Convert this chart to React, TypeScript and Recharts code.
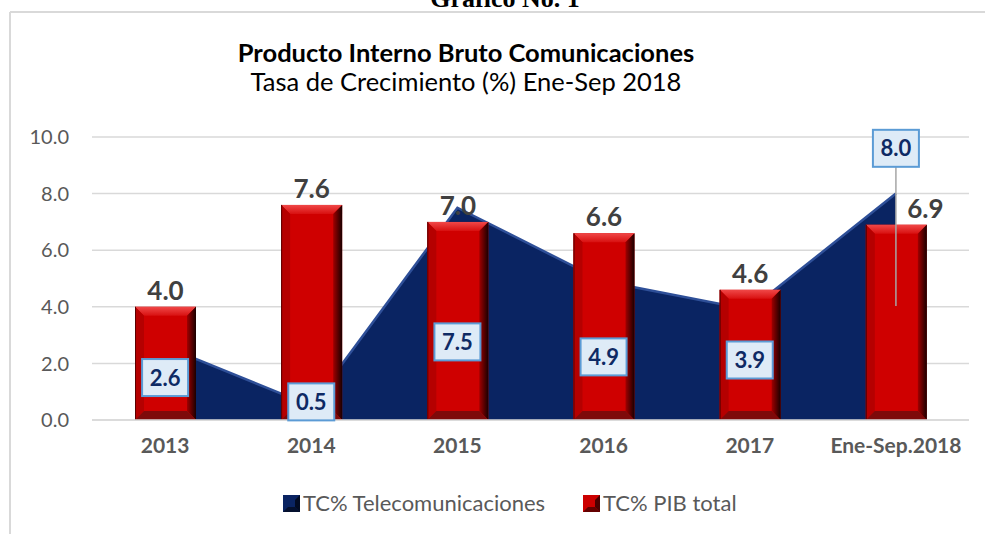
import { ComposedChart, Area, Bar, XAxis, YAxis, CartesianGrid, LabelList } from 'recharts'

// Data
const years = ['2013', '2014', '2015', '2016', '2017', 'Ene-Sep.2018']
const pibTotal = [4.0, 7.6, 7.0, 6.6, 4.6, 6.9]
const telecom = [2.6, 0.5, 7.5, 4.9, 3.9, 8.0]
const yTicks = [0, 2, 4, 6, 8, 10]

const data = years.map((year, i) => ({ year, pib: pibTotal[i], tel: telecom[i] }))

// layout
const W = 985
const H = 534
const MARGIN = { top: 137, right: 16, bottom: 74, left: 12 }
const X_AXIS_H = 40
const PLOT_BOTTOM = H - MARGIN.bottom - X_AXIS_H
const PPU = (PLOT_BOTTOM - MARGIN.top) / 10

const FONT = 'Lato, "Open Sans", sans-serif'
const GRAY = '#595959'

// where the boxed telecom labels sit (in axis units), as placed in the original
const telecomLabelLevel = [1.5, 0.64, 2.76, 2.23, 2.12, 9.6]

const BevelBar = (props: any) => {
  const { x, y, width: w, height: h } = props
  if (!h || h <= 0) return null
  const b = Math.min(9, h / 2)
  return (
    <g>
      <rect x={x} y={y} width={w} height={h} fill="#CF0000" />
      <polygon points={`${x},${y} ${x + w},${y} ${x + w - b},${y + b} ${x + b},${y + b}`} fill="url(#barTop)" />
      <polygon points={`${x},${y} ${x + b},${y + b} ${x + b},${y + h - b} ${x},${y + h}`} fill="#B50000" />
      <polygon points={`${x + w},${y} ${x + w},${y + h} ${x + w - b},${y + h - b} ${x + w - b},${y + b}`} fill="url(#barRight)" />
      <polygon points={`${x},${y + h} ${x + b},${y + h - b} ${x + w - b},${y + h - b} ${x + w},${y + h}`} fill="#7E0A0A" />
      <line x1={x + 0.5} y1={y} x2={x + 0.5} y2={y + h} stroke="#5a0000" strokeWidth={1} />
    </g>
  )
}

const BarValueLabel = (props: any) => {
  const { x, y, width, value, index } = props
  const last = index === years.length - 1
  return (
    <text
      x={x + width / 2 + (last ? 29 : 0)}
      y={y - 7}
      textAnchor="middle"
      fontFamily={FONT}
      fontWeight="bold"
      fontSize={26}
      fill="#404040"
    >
      {Number(value).toFixed(1)}
    </text>
  )
}

const TelecomLabel = (props: any) => {
  const { x, value, index } = props
  const cy = PLOT_BOTTOM - telecomLabelLevel[index] * PPU
  const bw = 46
  const bh = 37
  const last = index === years.length - 1
  return (
    <g>
      {last && (
        <line x1={x} y1={cy + bh / 2} x2={x} y2={PLOT_BOTTOM - 4.03 * PPU} stroke="#a6a6a6" strokeWidth={1.5} />
      )}
      <rect x={x - bw / 2} y={cy - bh / 2} width={bw} height={bh} fill="#DEEBF7" stroke="#5B9BD5" strokeWidth={2} />
      <text
        x={x}
        y={cy + 8}
        textAnchor="middle"
        fontFamily={FONT}
        fontWeight="bold"
        fontSize={22}
        fill="#0E2A64"
      >
        {Number(value).toFixed(1)}
      </text>
    </g>
  )
}

const LegendSwatch = ({ x, y, color, dark }: { x: number; y: number; color: string; dark: string }) => {
  const s = 17
  const b = 5
  return (
    <g>
      <rect x={x} y={y} width={s} height={s} fill={color} />
      <polygon points={`${x},${y} ${x + s},${y} ${x + s - b},${y + b} ${x + b},${y + b}`} fill={color} opacity={0.7} />
      <polygon points={`${x + s},${y} ${x + s},${y + s} ${x + s - b},${y + s - b} ${x + s - b},${y + b}`} fill={dark} />
      <polygon points={`${x},${y + s} ${x + b},${y + s - b} ${x + s - b},${y + s - b} ${x + s},${y + s}`} fill={dark} opacity={0.8} />
    </g>
  )
}

export default function App() {
  return (
    <div style={{ position: 'absolute', left: 0, top: 0, width: W, height: H, background: '#fff', overflow: 'hidden' }}>
      <svg width={W} height={H} style={{ position: 'absolute', left: 0, top: 0 }}>
        <text x={505} y={7} textAnchor="middle" fontFamily='"Liberation Serif", serif' fontWeight="bold" fontSize={26} fill="#000">
          Gráfico No. 1
        </text>
        <line x1={10} y1={12} x2={W} y2={12} stroke="#d9d9d9" strokeWidth={2} />
        <line x1={10} y1={12} x2={10} y2={H} stroke="#d9d9d9" strokeWidth={2} />
        <text x={466} y={62} textAnchor="middle" fontFamily={FONT} fontWeight="bold" fontSize={25.5} fill="#000">
          Producto Interno Bruto Comunicaciones
        </text>
        <text x={466} y={91} textAnchor="middle" fontFamily={FONT} fontSize={25.5} fill="#000">
          Tasa de Crecimiento (%) Ene-Sep 2018
        </text>
        <LegendSwatch x={283} y={495} color="#0A2462" dark="#020b22" />
        <text x={303} y={511} fontFamily={FONT} fontSize={22} fill={GRAY}>
          TC% Telecomunicaciones
        </text>
        <LegendSwatch x={583} y={495} color="#CC0000" dark="#4a0000" />
        <text x={603} y={511} fontFamily={FONT} fontSize={22} fill={GRAY}>
          TC% PIB total
        </text>
      </svg>
      <div style={{ position: 'absolute', left: 0, top: 0 }}>
        <ComposedChart width={W} height={H} data={data} margin={MARGIN}>
          <defs>
            <linearGradient id="barTop" x1="0" y1="0" x2="0" y2="1">
              <stop offset="0%" stopColor="#F04848" />
              <stop offset="100%" stopColor="#D81010" />
            </linearGradient>
            <linearGradient id="barRight" x1="0" y1="0" x2="1" y2="0">
              <stop offset="0%" stopColor="#A00000" />
              <stop offset="100%" stopColor="#1a0000" />
            </linearGradient>
          </defs>
          <CartesianGrid vertical={false} stroke="#d9d9d9" strokeWidth={1.5} />
          <XAxis
            dataKey="year"
            height={X_AXIS_H}
            tickLine={false}
            axisLine={{ stroke: '#d9d9d9', strokeWidth: 1.5 }}
            tickMargin={12}
            tick={{ fontFamily: FONT, fontSize: 21, fontWeight: 'bold', fill: GRAY }}
            interval={0}
          />
          <YAxis
            width={80}
            domain={[0, 10]}
            ticks={yTicks}
            tickLine={false}
            axisLine={false}
            tickMargin={17}
            tickFormatter={(v: number) => v.toFixed(1)}
            tick={{ fontFamily: FONT, fontSize: 20, fill: GRAY }}
          />
          <Area
            type="linear"
            dataKey="tel"
            fill="#0A2462"
            fillOpacity={1}
            stroke="#2E4F98"
            strokeWidth={2.5}
            isAnimationActive={false}
          >
            <LabelList dataKey="tel" content={TelecomLabel} />
          </Area>
          <Bar dataKey="pib" barSize={61} shape={BevelBar} isAnimationActive={false}>
            <LabelList dataKey="pib" content={BarValueLabel} />
          </Bar>
        </ComposedChart>
      </div>
    </div>
  )
}
